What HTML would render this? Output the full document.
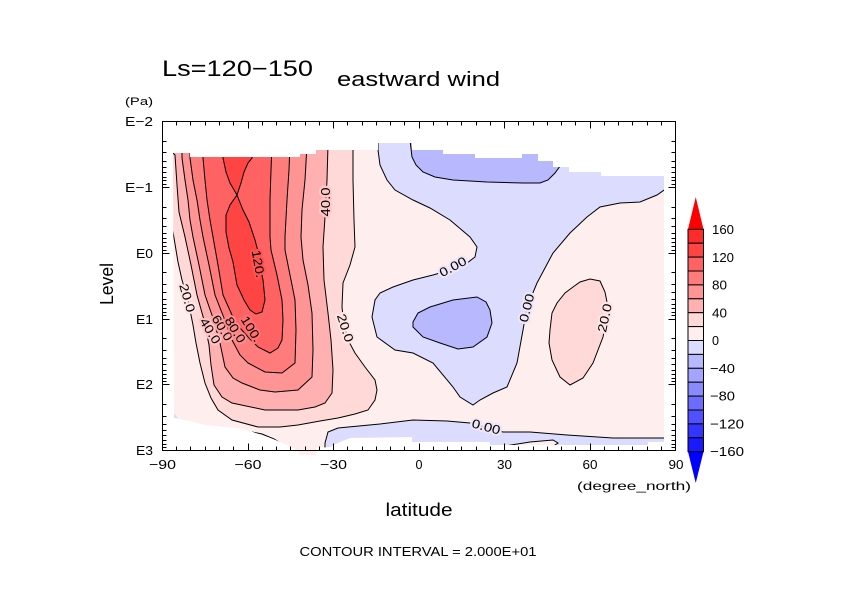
<!DOCTYPE html>
<html><head><meta charset="utf-8">
<style>html,body{margin:0;padding:0;background:#fff;}svg{display:block}</style>
</head>
<body>
<svg width="842" height="595" viewBox="0 0 842 595" xmlns="http://www.w3.org/2000/svg" font-family="'Liberation Sans', sans-serif">
<defs>
<clipPath id="m"><path d="M173,153 L190,153 L190,157 L300,157 L300,154 L316,154 L316,150 L378,150 L378,143 L412,143 L412,150 L443,150 L443,154 L475,154 L475,158 L522,158 L522,154 L538,154 L538,161 L553,161 L553,167 L569,167 L569,172 L601,172 L601,176 L664,176 L664,442 L648,442 L648,445 L490,445 L490,442 L412,442 L412,437 L350,438 L340,442 L330,447 L316,448 L316,455 L300,455 L298,451 L283,443 L268,437 L253,432 L237,428 L205,425 L190,421 L174,418 Z"/></clipPath>
</defs>
<rect width="842" height="595" fill="#fff"/>

<g clip-path="url(#m)">
<rect x="160" y="130" width="520" height="340" fill="#ffeeee"/>
<!-- blue 0..-20 -->
<polygon fill="#dcdcff" points="378,135 378,150 380,165 387,180 395,190 413,200 430,208 450,220 470,237 477,247 475,257 467,263 450,270 433,275 413,280 393,287 380,293 375,300 372,317 377,337 395,350 413,353 433,363 453,387 460,397 473,405 480,400 493,393 507,387 517,363 523,330 527,307 537,283 553,253 570,233 587,217 600,207 620,203 640,202 657,195 670,186 672,135"/>
<polygon fill="#dcdcff" points="322,455 325,443 328,432 338,428 380,424 413,420 447,421 470,423 503,432 530,432 567,435 613,438 670,438 672,470 322,470"/>
<polygon fill="#ffeeee" points="505,446 530,442 553,440 558,443 552,447"/>
<polygon fill="#dcdcff" points="252,432 262,434 274,439 284,445 270,441 258,436"/>
<polygon fill="#dcdcff" points="173,412 178,418 173,419"/>
<!-- blue -20..-40 -->
<polygon fill="#b8b8ff" points="410,135 412,157 416,165 423,172 435,177 453,180 487,182 523,183 540,183 548,180 555,173 563,162 566,135"/>
<polygon fill="#b8b8ff" points="413,322 418,313 430,307 453,300 477,297 486,302 490,310 492,323 487,337 473,347 458,349 440,343 423,337 413,327"/>
<!-- right pink blob -->
<polygon fill="#ffd8d8" points="549,343 550,330 552,313 557,303 565,293 573,287 580,282 590,279 600,281 605,292 608,307 606,322 603,337 593,363 583,378 570,385 560,377 552,360"/>
<!-- jet -->
<polygon fill="#ffd8d8" points="166,215 173,232 178,262 182,280 188,300 193,325 196,343 200,363 205,383 211,398 218,410 232,420 258,427 280,427 298,425 320,421 338,418 355,414 368,410 375,400 377,390 375,380 365,367 355,353 348,340 344,325 342,307 343,283 350,265 355,247 354,220 353,180 353,150 353,135 160,135 160,215"/>
<polygon fill="#ffb0b0" points="170,150 175,155 177,185 179,212 185,237 191,265 197,295 204,320 209,345 211,365 214,385 222,397 232,403 265,410 298,410 315,407 325,403 332,393 333,370 331,340 328,313 324,280 323,247 325,217 327,180 328,150 328,135 170,135"/>
<polygon fill="#ff9494" points="182,135 182,158 185,180 188,200 190,220 193,237 199,265 205,295 213,318 220,343 225,367 233,378 242,383 260,390 275,392 298,390 312,377 313,350 312,313 308,285 303,260 301,237 302,210 305,180 307,150 307,135"/>
<polygon fill="#ff7c7c" points="190,135 190,158 193,180 197,200 200,220 203,237 209,265 215,295 224,318 232,340 240,355 248,363 265,372 282,373 295,363 296,330 295,300 290,275 285,250 285,237 287,200 289,170 290,150 290,135"/>
<polygon fill="#ff6262" points="203,135 203,158 205,180 207,200 210,220 213,237 218,265 223,295 232,315 240,328 248,337 258,347 270,353 278,348 282,340 283,320 282,300 277,275 271,250 270,237 270,200 271,170 272,150 272,135"/>
<polygon fill="#ff4444" points="223,135 223,158 226,172 230,183 237,195 230,205 226,215 226,232 229,248 233,262 237,285 244,300 250,310 256,314 262,312 265,300 263,280 261,270 259,255 255,240 249,222 243,210 237,195 241,183 244,172 248,163 252,158 253,135"/>

<!-- contour lines -->
<g fill="none" stroke="#000" stroke-width="1">
<polyline points="166,215 173,232 178,262 182,280 188,300 193,325 196,343 200,363 205,383 211,398 218,410 232,420 258,427 280,427 298,425 320,421 338,418 355,414 368,410 375,400 377,390 375,380 365,367 355,353 348,340 344,325 342,307 343,283 350,265 355,247 354,220 353,180 353,145"/>
<polyline points="170,150 175,155 177,185 179,212 185,237 191,265 197,295 204,320 209,345 211,365 214,385 222,397 232,403 265,410 298,410 315,407 325,403 332,393 333,370 331,340 328,313 324,280 323,247 325,217 327,180 328,145"/>
<polyline points="182,145 182,158 185,180 188,200 190,220 193,237 199,265 205,295 213,318 220,343 225,367 233,378 242,383 260,390 275,392 298,390 312,377 313,350 312,313 308,285 303,260 301,237 302,210 305,180 307,145"/>
<polyline points="190,145 190,158 193,180 197,200 200,220 203,237 209,265 215,295 224,318 232,340 240,355 248,363 265,372 282,373 295,363 296,330 295,300 290,275 285,250 285,237 287,200 289,170 290,145"/>
<polyline points="203,145 203,158 205,180 207,200 210,220 213,237 218,265 223,295 232,315 240,328 248,337 258,347 270,353 278,348 282,340 283,320 282,300 277,275 271,250 270,237 270,200 271,170 272,145"/>
<polyline points="223,145 223,158 226,172 230,183 237,195 230,205 226,215 226,232 229,248 233,262 237,285 244,300 250,310 256,314 262,312 265,300 263,280 261,270 259,255 255,240 249,222 243,210 237,195 241,183 244,172 248,163 252,158 253,145"/>
<polyline points="378,140 378,150 380,165 387,180 395,190 413,200 430,208 450,220 470,237 477,247 475,257 467,263 450,270 433,275 413,280 393,287 380,293 375,300 372,317 377,337 395,350 413,353 433,363 453,387 460,397 473,405 480,400 493,393 507,387 517,363 523,330 527,307 537,283 553,253 570,233 587,217 600,207 620,203 640,202 657,195 670,186"/>
<polyline points="325,449 325,443 328,432 338,428 380,424 413,420 447,421 470,423 503,432 530,432 567,435 613,438 670,438"/>
<polyline points="505,446 530,442 553,440 558,443 552,447"/>
<polyline points="252,432 262,434 274,439 284,445"/>
<polyline points="410,140 412,157 416,165 423,172 435,177 453,180 487,182 523,183 540,183 548,180 555,173 563,162 566,150"/>
<polygon points="413,322 418,313 430,307 453,300 477,297 486,302 490,310 492,323 487,337 473,347 458,349 440,343 423,337 413,327"/>
<polygon points="549,343 550,330 552,313 557,303 565,293 573,287 580,282 590,279 600,281 605,292 608,307 606,322 603,337 593,363 583,378 570,385 560,377 552,360"/>
</g>
</g>

<!-- contour labels -->
<g font-size="12.5" text-anchor="middle" fill="#000" stroke-width="4" paint-order="stroke" stroke-linejoin="round">
<text transform="translate(187,298) rotate(74)" dy="4" stroke="#ffe4e4" textLength="29" lengthAdjust="spacingAndGlyphs">20.0</text>
<text transform="translate(210,331) rotate(58)" dy="4" stroke="#ffc4c4" textLength="28" lengthAdjust="spacingAndGlyphs">40.0</text>
<text transform="translate(222,328) rotate(58)" dy="4" stroke="#ffa4a4" textLength="28" lengthAdjust="spacingAndGlyphs">60.0</text>
<text transform="translate(235,330) rotate(58)" dy="4" stroke="#ff8a8a" textLength="28" lengthAdjust="spacingAndGlyphs">80.0</text>
<text transform="translate(251,329) rotate(58)" dy="4" stroke="#ff7070" textLength="28" lengthAdjust="spacingAndGlyphs">100.</text>
<text transform="translate(258,264) rotate(80)" dy="4" stroke="#ff5252" textLength="28" lengthAdjust="spacingAndGlyphs">120.</text>
<text transform="translate(326,202) rotate(-90)" dy="4" stroke="#ffc8c8" textLength="29" lengthAdjust="spacingAndGlyphs">40.0</text>
<text transform="translate(345,328) rotate(72)" dy="4" stroke="#ffe4e4" textLength="29" lengthAdjust="spacingAndGlyphs">20.0</text>
<text transform="translate(453,267) rotate(-28)" dy="4" stroke="#eee6f6" textLength="29" lengthAdjust="spacingAndGlyphs">0.00</text>
<text transform="translate(527,308) rotate(-76)" dy="4" stroke="#eee6f6" textLength="29" lengthAdjust="spacingAndGlyphs">0.00</text>
<text transform="translate(605,318) rotate(-78)" dy="4" stroke="#ffe4e4" textLength="29" lengthAdjust="spacingAndGlyphs">20.0</text>
<text transform="translate(486,427) rotate(15)" dy="4" stroke="#eee6f6" textLength="29" lengthAdjust="spacingAndGlyphs">0.00</text>
</g>

<!-- frame -->
<rect x="162.5" y="121.5" width="513" height="329" fill="none" stroke="#000" stroke-width="1"/>
<g stroke="#000" stroke-width="1" fill="none">
<path d="M162.5,187.5h7M162.5,253.5h7M162.5,319.5h7M162.5,384.5h7M675.5,187.5h-7M675.5,253.5h-7M675.5,319.5h-7M675.5,384.5h-7"/>
<path d="M162.5,141.5h4M162.5,152.5h4M162.5,161.5h4M162.5,167.5h4M162.5,172.5h4M162.5,177.5h4M162.5,180.5h4M162.5,184.5h4M162.5,207.5h4M162.5,218.5h4M162.5,226.5h4M162.5,233.5h4M162.5,238.5h4M162.5,242.5h4M162.5,246.5h4M162.5,250.5h4M162.5,272.5h4M162.5,284.5h4M162.5,292.5h4M162.5,299.5h4M162.5,304.5h4M162.5,308.5h4M162.5,312.5h4M162.5,315.5h4M162.5,338.5h4M162.5,350.5h4M162.5,358.5h4M162.5,364.5h4M162.5,370.5h4M162.5,374.5h4M162.5,378.5h4M162.5,381.5h4M162.5,404.5h4M162.5,416.5h4M162.5,424.5h4M162.5,430.5h4M162.5,435.5h4M162.5,440.5h4M162.5,444.5h4M162.5,447.5h4"/>
<path d="M675.5,141.5h-4M675.5,152.5h-4M675.5,161.5h-4M675.5,167.5h-4M675.5,172.5h-4M675.5,177.5h-4M675.5,180.5h-4M675.5,184.5h-4M675.5,207.5h-4M675.5,218.5h-4M675.5,226.5h-4M675.5,233.5h-4M675.5,238.5h-4M675.5,242.5h-4M675.5,246.5h-4M675.5,250.5h-4M675.5,272.5h-4M675.5,284.5h-4M675.5,292.5h-4M675.5,299.5h-4M675.5,304.5h-4M675.5,308.5h-4M675.5,312.5h-4M675.5,315.5h-4M675.5,338.5h-4M675.5,350.5h-4M675.5,358.5h-4M675.5,364.5h-4M675.5,370.5h-4M675.5,374.5h-4M675.5,378.5h-4M675.5,381.5h-4M675.5,404.5h-4M675.5,416.5h-4M675.5,424.5h-4M675.5,430.5h-4M675.5,435.5h-4M675.5,440.5h-4M675.5,444.5h-4M675.5,447.5h-4"/>
<path d="M248.5,121.5v7M333.5,121.5v7M419.5,121.5v7M504.5,121.5v7M590.5,121.5v7M248.5,450.5v-7M333.5,450.5v-7M419.5,450.5v-7M504.5,450.5v-7M590.5,450.5v-7"/>
<path d="M176.5,121.5v4M190.5,121.5v4M205.5,121.5v4M219.5,121.5v4M233.5,121.5v4M262.5,121.5v4M276.5,121.5v4M290.5,121.5v4M305.5,121.5v4M319.5,121.5v4M347.5,121.5v4M362.5,121.5v4M376.5,121.5v4M390.5,121.5v4M404.5,121.5v4M433.5,121.5v4M447.5,121.5v4M461.5,121.5v4M476.5,121.5v4M490.5,121.5v4M518.5,121.5v4M533.5,121.5v4M547.5,121.5v4M561.5,121.5v4M575.5,121.5v4M604.5,121.5v4M618.5,121.5v4M632.5,121.5v4M647.5,121.5v4M661.5,121.5v4"/>
<path d="M176.5,450.5v-4M190.5,450.5v-4M205.5,450.5v-4M219.5,450.5v-4M233.5,450.5v-4M262.5,450.5v-4M276.5,450.5v-4M290.5,450.5v-4M305.5,450.5v-4M319.5,450.5v-4M347.5,450.5v-4M362.5,450.5v-4M376.5,450.5v-4M390.5,450.5v-4M404.5,450.5v-4M433.5,450.5v-4M447.5,450.5v-4M461.5,450.5v-4M476.5,450.5v-4M490.5,450.5v-4M518.5,450.5v-4M533.5,450.5v-4M547.5,450.5v-4M561.5,450.5v-4M575.5,450.5v-4M604.5,450.5v-4M618.5,450.5v-4M632.5,450.5v-4M647.5,450.5v-4M661.5,450.5v-4"/>
</g>

<!-- titles -->
<g fill="#000">
<text x="162" y="76" font-size="22" textLength="151" lengthAdjust="spacingAndGlyphs">Ls=120−150</text>
<text x="337" y="86" font-size="20" textLength="163" lengthAdjust="spacingAndGlyphs">eastward wind</text>
<text x="125" y="105" font-size="11" textLength="28" lengthAdjust="spacingAndGlyphs">(Pa)</text>

<g font-size="13" text-anchor="end">
<text x="153" y="126" textLength="28" lengthAdjust="spacingAndGlyphs">E−2</text>
<text x="153" y="192" textLength="28" lengthAdjust="spacingAndGlyphs">E−1</text>
<text x="153" y="258" textLength="17" lengthAdjust="spacingAndGlyphs">E0</text>
<text x="153" y="324" textLength="17" lengthAdjust="spacingAndGlyphs">E1</text>
<text x="153" y="389" textLength="17" lengthAdjust="spacingAndGlyphs">E2</text>
<text x="153" y="455" textLength="17" lengthAdjust="spacingAndGlyphs">E3</text>
</g>

<g font-size="13" text-anchor="middle">
<text x="162.5" y="469" textLength="27" lengthAdjust="spacingAndGlyphs">−90</text>
<text x="248" y="469" textLength="27" lengthAdjust="spacingAndGlyphs">−60</text>
<text x="333.5" y="469" textLength="27" lengthAdjust="spacingAndGlyphs">−30</text>
<text x="419" y="469" textLength="7" lengthAdjust="spacingAndGlyphs">0</text>
<text x="504.5" y="469" textLength="15" lengthAdjust="spacingAndGlyphs">30</text>
<text x="590" y="469" textLength="15" lengthAdjust="spacingAndGlyphs">60</text>
<text x="676" y="469" textLength="15" lengthAdjust="spacingAndGlyphs">90</text>
</g>

<text x="577" y="490" font-size="12" textLength="114" lengthAdjust="spacingAndGlyphs">(degree_north)</text>
<text x="419" y="516" font-size="18" text-anchor="middle" textLength="67" lengthAdjust="spacingAndGlyphs">latitude</text>
<text transform="translate(113,284) rotate(-90)" font-size="18" text-anchor="middle" textLength="42" lengthAdjust="spacingAndGlyphs">Level</text>
<text x="418" y="556" font-size="13" text-anchor="middle" textLength="237" lengthAdjust="spacingAndGlyphs">CONTOUR INTERVAL = 2.000E+01</text>
</g>

<!-- colorbar -->
<polygon points="688,229.3 695.75,197 703.5,229.3" fill="#ff0000"/>
<polygon points="688,451.7 695.75,483 703.5,451.7" fill="#0000ff"/>
<g stroke="#000" stroke-width="1">
<rect x="688" y="229.3" width="15.5" height="13.9" fill="#ff2a2a"/>
<rect x="688" y="243.2" width="15.5" height="13.9" fill="#ff4444"/>
<rect x="688" y="257.1" width="15.5" height="13.9" fill="#ff6262"/>
<rect x="688" y="271.0" width="15.5" height="13.9" fill="#ff7c7c"/>
<rect x="688" y="284.9" width="15.5" height="13.9" fill="#ff9494"/>
<rect x="688" y="298.8" width="15.5" height="13.9" fill="#ffb0b0"/>
<rect x="688" y="312.7" width="15.5" height="13.9" fill="#ffd8d8"/>
<rect x="688" y="326.6" width="15.5" height="13.9" fill="#ffeeee"/>
<rect x="688" y="340.5" width="15.5" height="13.9" fill="#dcdcff"/>
<rect x="688" y="354.4" width="15.5" height="13.9" fill="#b8b8ff"/>
<rect x="688" y="368.3" width="15.5" height="13.9" fill="#a4a4ff"/>
<rect x="688" y="382.2" width="15.5" height="13.9" fill="#8a8aff"/>
<rect x="688" y="396.1" width="15.5" height="13.9" fill="#6c6cff"/>
<rect x="688" y="410.0" width="15.5" height="13.9" fill="#5050ff"/>
<rect x="688" y="423.9" width="15.5" height="13.9" fill="#3434ff"/>
<rect x="688" y="437.8" width="15.5" height="13.9" fill="#1a1aff"/>
</g>
<g font-size="13" fill="#000">
<text x="712" y="234" textLength="22" lengthAdjust="spacingAndGlyphs">160</text>
<text x="712" y="262" textLength="22" lengthAdjust="spacingAndGlyphs">120</text>
<text x="712" y="289.5" textLength="15" lengthAdjust="spacingAndGlyphs">80</text>
<text x="712" y="317.5" textLength="15" lengthAdjust="spacingAndGlyphs">40</text>
<text x="712" y="345" textLength="7" lengthAdjust="spacingAndGlyphs">0</text>
<text x="710" y="373" textLength="25" lengthAdjust="spacingAndGlyphs">−40</text>
<text x="710" y="400.5" textLength="25" lengthAdjust="spacingAndGlyphs">−80</text>
<text x="710" y="428.5" textLength="34" lengthAdjust="spacingAndGlyphs">−120</text>
<text x="710" y="456" textLength="34" lengthAdjust="spacingAndGlyphs">−160</text>
</g>
</svg>
</body></html>
